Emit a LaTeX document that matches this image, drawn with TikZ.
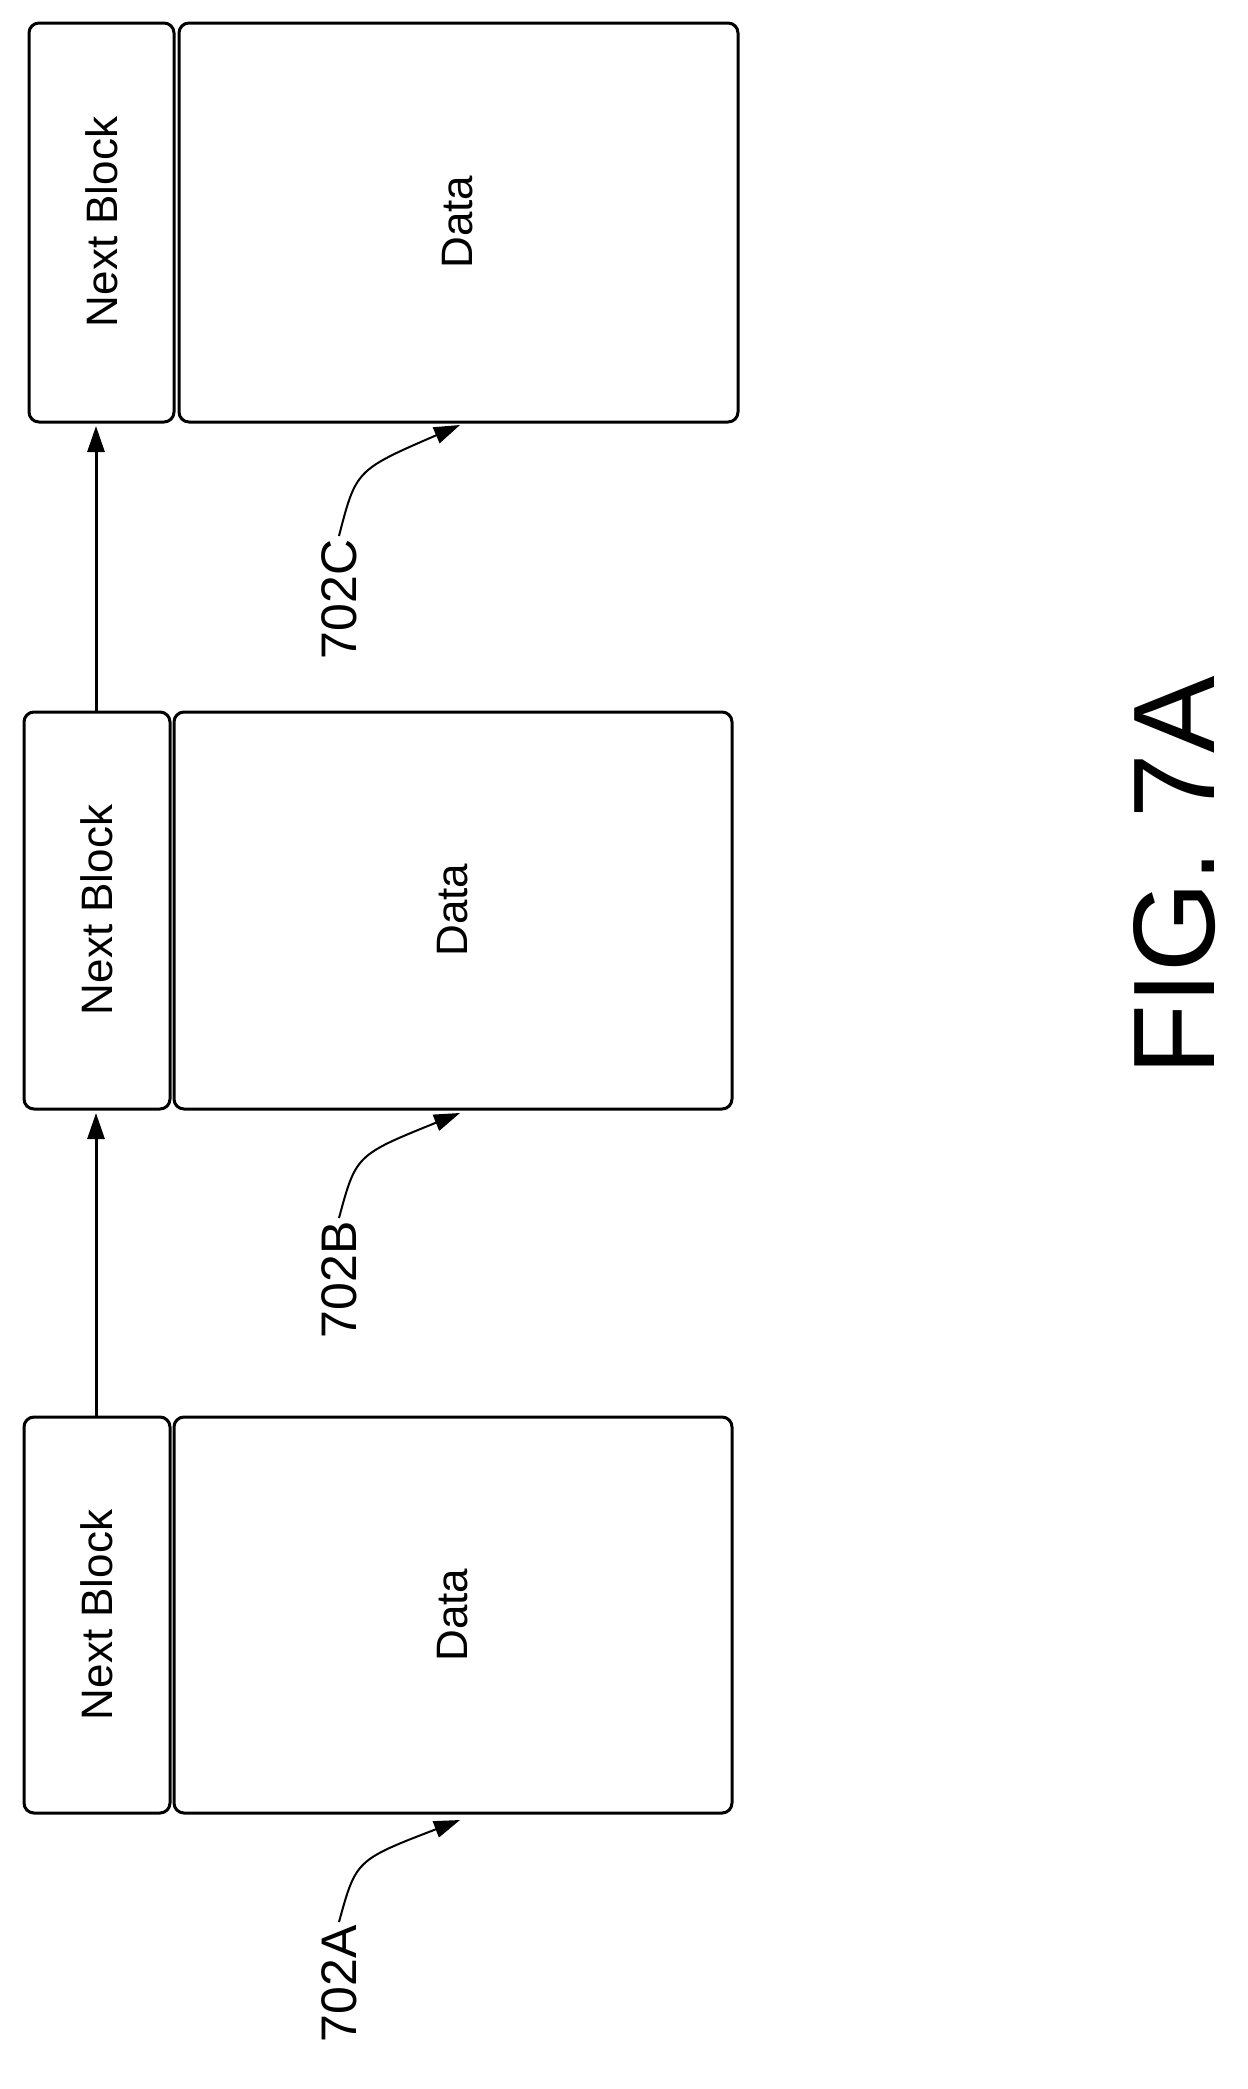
\documentclass[tikz,border=0pt]{standalone}
\usepackage{fontspec}
\setmainfont{Liberation Sans}
\usetikzlibrary{arrows.meta}
\begin{document}
\begin{tikzpicture}[x=1pt,y=-1pt,
  box/.style={draw,line width=3pt,rounded corners=10pt},
  lbl/.style={font=\fontsize{44}{44}\selectfont,rotate=90},
  ref/.style={font=\fontsize{50}{50}\selectfont,rotate=90},
  arr/.style={line width=3pt,-{Triangle[length=26pt,width=17pt]}}]
\useasboundingbox (0,0) rectangle (1248,2089);
% block C
\draw[box] (29,23) rectangle (174,422);
\draw[box] (179,23) rectangle (738,422);
\node[lbl] (nbC) at (101.5,222) {Next Block};
\node[lbl] (dC) at (458,222) {Data};
% block B
\draw[box] (24,712) rectangle (170,1109);
\draw[box] (174,712) rectangle (732,1109);
\node[lbl] (nbB) at (97,910) {Next Block};
\node[lbl] (dB) at (453,910) {Data};
% block A
\draw[box] (24,1417) rectangle (170,1813);
\draw[box] (174,1417) rectangle (732,1813);
\node[lbl] (nbA) at (97,1615) {Next Block};
\node[lbl] (dA) at (453,1615) {Data};
% next-block arrows
\coordinate (a1) at (96,1417); \coordinate (b1) at (96,1113);
\coordinate (a2) at (96,712);  \coordinate (b2) at (96,426);
\draw[arr] (a1) -- (b1);
\draw[arr] (a2) -- (b2);
% reference labels
\node[ref,anchor=east] (rC) at (339,536) {702C};
\node[ref,anchor=east] (rB) at (339,1218) {702B};
\node[ref,anchor=east] (rA) at (339,1922) {702A};
\coordinate (tC) at (460,425);
\coordinate (tB) at (460,1113);
\coordinate (tA) at (460,1820);
\draw[arr,line width=2pt] (rC.east) .. controls (356,470) .. (tC);
\draw[arr,line width=2pt] (rB.east) .. controls (356,1155) .. (tB);
\draw[arr,line width=2pt] (rA.east) .. controls (356,1860) .. (tA);
\node[font=\fontsize{116}{116}\selectfont,rotate=90] (fig) at (1175,876) {FIG. 7A};
\end{tikzpicture}
\end{document}
